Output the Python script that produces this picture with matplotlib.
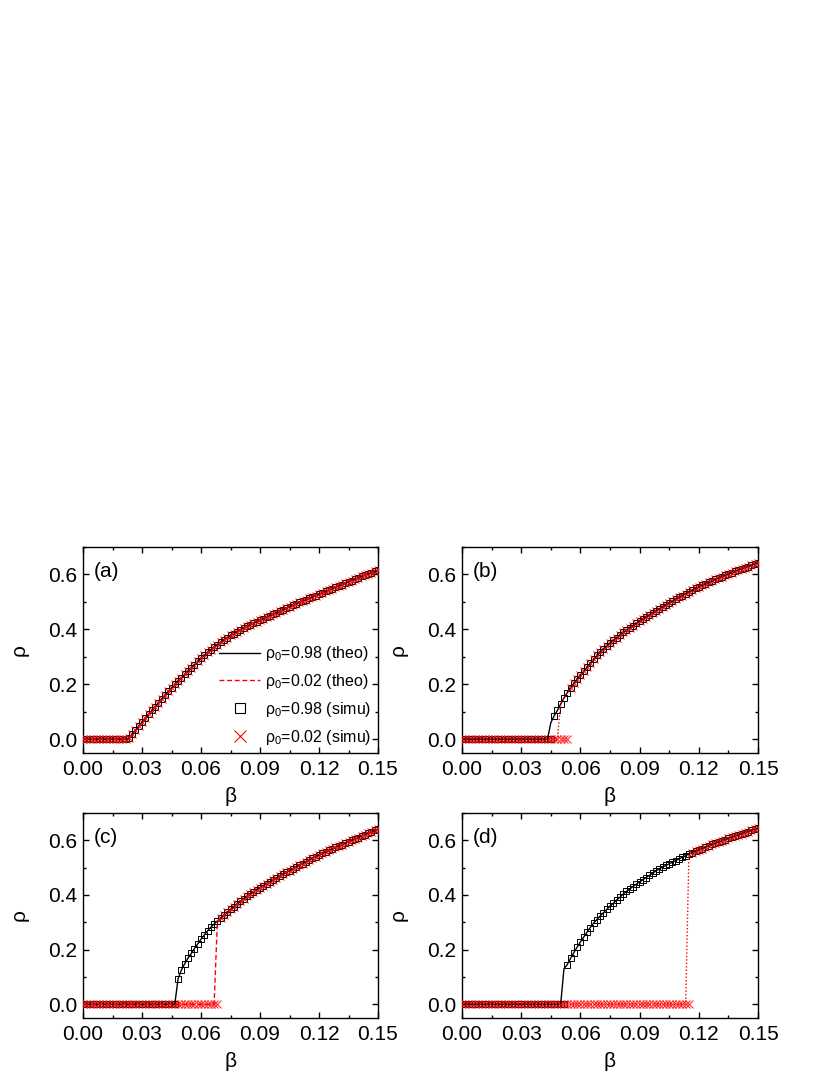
import numpy as np
import matplotlib
matplotlib.use('Agg')
import matplotlib.pyplot as plt
from matplotlib.ticker import MultipleLocator, FormatStrFormatter
from matplotlib.lines import Line2D

plt.rcParams['font.family'] = ['Liberation Sans', 'DejaVu Sans']
plt.rcParams['mathtext.fontset'] = 'custom'
plt.rcParams['mathtext.rm'] = 'Liberation Sans'
plt.rcParams['mathtext.default'] = 'regular'

# ---------------- data ----------------
beta = np.linspace(0, 0.15, 91)   # beta grid, step 1/600

# upper (active) branch per panel
rho_upper_a = [0.0] * 14 + [
    0.003, 0.018, 0.033, 0.048, 0.063, 0.077, 0.091, 0.105, 0.119, 0.133,
    0.147, 0.161, 0.174, 0.187, 0.200, 0.212, 0.224, 0.236, 0.248, 0.260,
    0.272, 0.284, 0.295, 0.306, 0.316, 0.326, 0.336, 0.345, 0.354, 0.362,
    0.370, 0.378, 0.385, 0.392, 0.399, 0.405, 0.411, 0.417, 0.422, 0.428,
    0.433, 0.439, 0.444, 0.450, 0.455, 0.460, 0.466, 0.472, 0.477, 0.483,
    0.488, 0.493, 0.498, 0.503, 0.508, 0.513, 0.518, 0.523, 0.528, 0.533,
    0.538, 0.543, 0.548, 0.553, 0.558, 0.563, 0.568, 0.573, 0.578, 0.583,
    0.588, 0.593, 0.598, 0.602, 0.606, 0.611, 0.615]

rho_upper_b = [0.0] * 27 + [
    0.060, 0.085, 0.105, 0.128, 0.150, 0.170, 0.188, 0.204, 0.219, 0.234,
    0.248, 0.262, 0.277, 0.291, 0.305, 0.318, 0.329, 0.340, 0.350, 0.360,
    0.370, 0.380, 0.389, 0.397, 0.406, 0.414, 0.422, 0.430, 0.438, 0.445,
    0.453, 0.460, 0.468, 0.475, 0.482, 0.489, 0.496, 0.503, 0.510, 0.517,
    0.523, 0.530, 0.536, 0.542, 0.549, 0.555, 0.560, 0.566, 0.571, 0.576,
    0.582, 0.587, 0.592, 0.597, 0.602, 0.606, 0.611, 0.616, 0.620, 0.625,
    0.629, 0.634, 0.638, 0.643]

rho_upper_c = [0.0] * 29 + [
    0.093, 0.125, 0.148, 0.168, 0.186, 0.204, 0.221, 0.238, 0.254, 0.269,
    0.282, 0.294, 0.305, 0.316, 0.327, 0.337, 0.347, 0.357, 0.367, 0.377,
    0.386, 0.395, 0.404, 0.412, 0.420, 0.427, 0.434, 0.441, 0.448, 0.455,
    0.462, 0.469, 0.476, 0.483, 0.489, 0.496, 0.502, 0.509, 0.515, 0.521,
    0.528, 0.534, 0.540, 0.546, 0.552, 0.557, 0.563, 0.568, 0.574, 0.579,
    0.584, 0.590, 0.595, 0.600, 0.605, 0.610, 0.616, 0.621, 0.626, 0.631,
    0.636, 0.641]

rho_upper_d = [0.0] * 31 + [
    0.130, 0.145, 0.168, 0.189, 0.209, 0.228, 0.246, 0.264, 0.281, 0.297,
    0.310, 0.323, 0.335, 0.347, 0.359, 0.370, 0.381, 0.392, 0.403, 0.413,
    0.422, 0.431, 0.440, 0.448, 0.456, 0.464, 0.472, 0.480, 0.488, 0.496,
    0.502, 0.508, 0.514, 0.520, 0.526, 0.532, 0.538, 0.544, 0.550, 0.555,
    0.560, 0.565, 0.570, 0.575, 0.580, 0.585, 0.590, 0.594, 0.598, 0.603,
    0.607, 0.611, 0.616, 0.620, 0.624, 0.628, 0.632, 0.636, 0.640, 0.644]

# grid index where each series leaves the absorbing state (rho = 0):
# (theo rho0=0.98, theo rho0=0.02, simu rho0=0.98, simu rho0=0.02)
onset_a = (14, 14, 14, 14)
onset_b = (27, 30, 28, 33)
onset_c = (29, 41, 29, 42)
onset_d = (31, 69, 32, 70)

panel_labels = ['(a)', '(b)', '(c)', '(d)']
legend_labels = [r'ρ$_0$=0.98 (theo)', r'ρ$_0$=0.02 (theo)',
                 r'ρ$_0$=0.98 (simu)', r'ρ$_0$=0.02 (simu)']
xticks = [0.00, 0.03, 0.06, 0.09, 0.12, 0.15]
yticks = [0.0, 0.2, 0.4, 0.6]

# ---------------- layout ----------------
W, H = 830, 1075
boxes = [(83, 547, 378, 753), (462, 547, 758, 753),
         (83, 813, 378, 1018), (462, 813, 758, 1018)]
red_styles = [(0, (3.5, 2)), (0, (1, 1.5)), (0, (3.5, 2)), (0, (1, 1.5))]

fig = plt.figure(figsize=(W / 100, H / 100), dpi=100)

uppers = [rho_upper_a, rho_upper_b, rho_upper_c, rho_upper_d]
onsets = [onset_a, onset_b, onset_c, onset_d]
k = np.arange(len(beta))

for i in range(4):
    l, t, r, b = boxes[i]
    ax = fig.add_axes([l / W, 1 - b / H, (r - l) / W, (b - t) / H])
    up = np.array(uppers[i])
    th98 = np.where(k >= onsets[i][0], up, 0.0)
    th02 = np.where(k >= onsets[i][1], up, 0.0)
    si98 = np.where(k >= onsets[i][2], up, 0.0)
    si02 = np.where(k >= onsets[i][3], up, 0.0)

    ax.plot(beta, si98, linestyle='none', marker='s', ms=4.3, mfc='none',
            mec='black', mew=0.7, zorder=2)
    ax.plot(beta, si02, linestyle='none', marker='x', ms=6.2, color='#ff1a1a',
            mew=0.8, alpha=0.9, zorder=3)
    ax.plot(beta, th98, color='black', lw=1.0, zorder=4)
    ax.plot(beta, th02, color='red', lw=1.0, linestyle=red_styles[i], zorder=5)

    ax.set_xlim(0, 0.15)
    ax.set_ylim(-0.05, 0.7)
    ax.set_xticks(xticks)
    ax.set_yticks(yticks)
    ax.xaxis.set_major_formatter(FormatStrFormatter('%.2f'))
    ax.yaxis.set_major_formatter(FormatStrFormatter('%.1f'))
    ax.xaxis.set_minor_locator(MultipleLocator(0.015))
    ax.yaxis.set_minor_locator(MultipleLocator(0.1))
    ax.tick_params(which='both', direction='in', top=True, right=True,
                   width=1.0, labelsize=15)
    ax.tick_params(axis='x', pad=5)
    ax.tick_params(axis='y', pad=4)
    ax.tick_params(which='major', length=4.5)
    ax.tick_params(which='minor', length=2.5)
    for s in ax.spines.values():
        s.set_linewidth(1.0)
    ax.set_xlabel('β', fontsize=15, labelpad=6)
    ax.set_ylabel('ρ', fontsize=15, labelpad=14)
    ax.text(0.035, 0.88, panel_labels[i], transform=ax.transAxes,
            fontsize=15, va='center', ha='left')

    if i == 0:
        handles = [
            Line2D([], [], color='black', lw=1.0),
            Line2D([], [], color='red', lw=1.0, linestyle=(0, (3.5, 2))),
            Line2D([], [], linestyle='none', marker='s', ms=7.5, mfc='none',
                   mec='black', mew=0.8),
            Line2D([], [], linestyle='none', marker='x', ms=9, color='red',
                   mew=0.8),
        ]
        ax.legend(handles, legend_labels, loc='lower right',
                  bbox_to_anchor=(1.0, 0.0), frameon=False, fontsize=11.5,
                  handlelength=2.6, handletextpad=0.3, labelspacing=0.55,
                  borderaxespad=0.0)

fig.savefig('out.png', dpi=100)
